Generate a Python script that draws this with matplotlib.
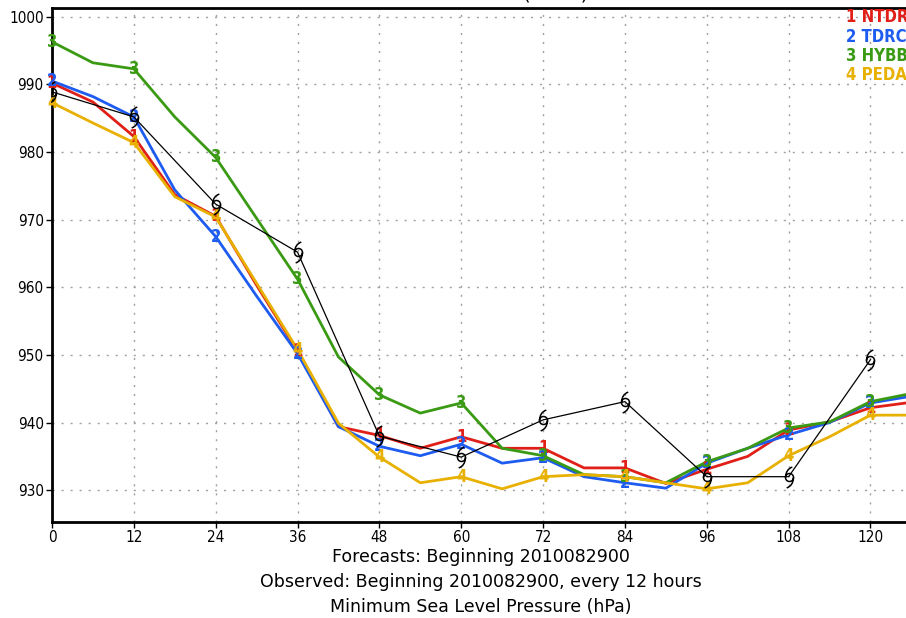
import numpy as np
import matplotlib
matplotlib.use("Agg")
import matplotlib.pyplot as plt
from matplotlib.path import Path

# forecast hours (6-hourly line vertices)
hours = [0, 6, 12, 18, 24, 30, 36, 42, 48, 54, 60, 66, 72, 78, 84, 90, 96, 102, 108, 114, 120, 126]

ntdr = [990.2, 987.4, 982.3, 973.7, 970.5, 960.3, 950.6, 939.4, 938.1, 936.2, 937.9, 936.2, 936.2, 933.3, 933.3, 931.0, 933.1, 935.0, 938.9, 940.1, 942.2, 943.0]
tdrc = [990.5, 988.2, 985.2, 974.4, 967.5, 958.7, 950.2, 939.4, 936.5, 935.1, 936.8, 934.0, 934.8, 932.0, 931.1, 930.3, 934.0, 936.2, 938.2, 940.0, 942.9, 943.9]
hybb = [996.3, 993.2, 992.3, 985.2, 979.2, 970.2, 961.2, 949.7, 944.1, 941.4, 942.9, 936.2, 935.1, 932.3, 932.0, 931.1, 934.2, 936.2, 939.2, 940.1, 943.1, 944.3]
peda = [987.3, 984.3, 981.4, 973.4, 970.4, 960.6, 950.8, 939.9, 934.9, 931.1, 932.0, 930.2, 932.0, 932.3, 932.0, 931.1, 930.2, 931.1, 935.1, 937.9, 941.1, 941.1]

# observed, every 12 hours
obs_hours = [0, 12, 24, 36, 48, 60, 72, 84, 96, 108, 120]
obs = [988.9, 985.2, 972.3, 965.2, 938.0, 934.9, 940.4, 943.1, 932.0, 932.0, 949.3]

models = ["NTDR", "TDRC", "HYBB", "PEDA"]
series = [ntdr, tdrc, hybb, peda]
colors = ["#e02018", "#1e5cf0", "#3a9a14", "#e8b000"]

plt.rcParams['font.family'] = ['DejaVu Sans']

fig = plt.figure(figsize=(9.06, 6.18), dpi=100)
ax = fig.add_axes([52 / 906, 1 - 522 / 618, 858 / 906, 514 / 618])

for i, (vals, c) in enumerate(zip(series, colors)):
    ax.plot(hours, vals, color=c, lw=2, zorder=3)
    for h, v in zip(hours, vals):
        if h % 12 == 0 and h <= 120:
            ax.text(h, v, str(i + 1), color=c, fontsize=12, fontweight='bold',
                    fontstretch='condensed', ha='center', va='center', zorder=4)

# hurricane symbol marker
verts = []
codes = []
circ = Path.unit_circle()
verts += list(circ.vertices * 0.5)
codes += list(circ.codes)
verts += [(0.35, 1.3), (-0.45, 1.05), (-0.5, 0.0)]
codes += [Path.MOVETO, Path.CURVE3, Path.CURVE3]
verts += [(-0.35, -1.3), (0.45, -1.05), (0.5, 0.0)]
codes += [Path.MOVETO, Path.CURVE3, Path.CURVE3]
hurr = Path(verts, codes)

ax.plot(obs_hours, obs, color='black', lw=0.9, zorder=5)
ax.plot(obs_hours, obs, ls='none', marker=hurr, markersize=15, mfc='none',
        mec='black', mew=1.1, zorder=6)

ax.set_xlim(0, 125.8)
ax.set_ylim(925.3, 1001.3)
ax.set_xticks(range(0, 121, 12))
ax.set_yticks(range(930, 1001, 10))
ax.tick_params(direction='out', length=4, width=1, labelsize=11, pad=2)
for lbl in ax.get_xticklabels() + ax.get_yticklabels():
    lbl.set_fontstretch('condensed')
ax.grid(True, color='#a0a0a0', linestyle=(0, (1.5, 5)), linewidth=1)
for side in ['left', 'bottom', 'top']:
    ax.spines[side].set_linewidth(2)
ax.spines['right'].set_visible(False)

ax.set_xlabel("Forecasts: Beginning 2010082900\n"
              "Observed: Beginning 2010082900, every 12 hours\n"
              "Minimum Sea Level Pressure (hPa)",
              fontsize=12.5, linespacing=1.5, labelpad=2)

fig.text(0.53, 1.009, "Storm: AL0710 (EARL)", fontsize=14, ha='center', va='center')

for i, (name, c) in enumerate(zip(models, colors)):
    fig.text(846 / 906, 1 - (17 + 19.5 * i) / 618, f"{i + 1} {name}", color=c,
             fontsize=12, fontweight='bold', fontstretch='condensed',
             ha='left', va='center')

fig.savefig("out.png", dpi=100)
